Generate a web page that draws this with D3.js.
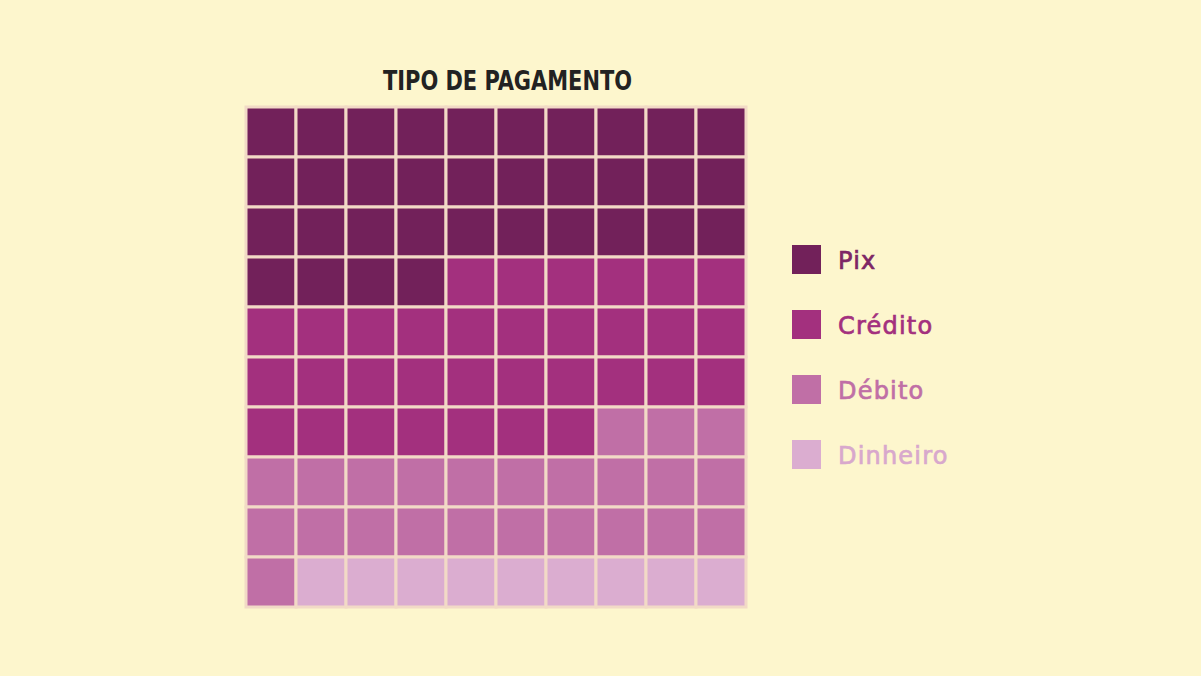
<!DOCTYPE html>
<html>
<head>
<meta charset="utf-8">
<script src="https://cdn.jsdelivr.net/npm/d3@7"></script>
<style>
  html, body { margin: 0; padding: 0; background: #fdf6cd; }
  svg { display: block; }
</style>
</head>
<body>
<svg id="chart" width="1201" height="676"></svg>
<script>
// waffle data: 100 squares
const categories = ["Pix", "Crédito", "Débito", "Dinheiro"];
const counts = [34, 33, 24, 9];
const colors = ["#72215a", "#a3307e", "#c06fa6", "#dbadd0"];
const textColors = ["#7e2665", "#a3307e", "#c06fa6", "#d8a8cc"];
const title = "TIPO DE PAGAMENTO";

const svg = d3.select("#chart");
const cols = d3.range(10);

svg.append("rect").attr("width", 1201).attr("height", 676).attr("fill", "#fdf6cd");

const x = d3.scaleBand().domain(cols).range([246, 746]);
const y = d3.scaleBand().domain(cols).range([107, 607]);

// expand counts into cells
const cells = [];
let idx = 0;
categories.forEach((c, i) => {
  for (let k = 0; k < counts[i]; k++) {
    cells.push({ cat: c, i: i, col: idx % 10, row: Math.floor(idx / 10) });
    idx++;
  }
});

svg.append("g")
  .selectAll("rect")
  .data(cells)
  .enter()
  .append("rect")
  .attr("x", d => x(d.col))
  .attr("y", d => y(d.row))
  .attr("width", x.bandwidth())
  .attr("height", y.bandwidth())
  .attr("fill", d => colors[d.i])
  .attr("stroke", "#f2dac6")
  .attr("stroke-width", 3);

svg.append("text")
  .attr("x", 383)
  .attr("y", 90)
  .attr("font-family", "'Liberation Sans Narrow', 'DejaVu Sans Condensed', sans-serif")
  .attr("font-weight", "bold")
  .attr("font-size", 27)
  .attr("textLength", 249)
  .attr("lengthAdjust", "spacingAndGlyphs")
  .attr("fill", "#222")
  .text(title);

// legend
const ly = d3.scaleBand().domain(categories).range([227, 487]);
const legend = svg.append("g")
  .selectAll("g")
  .data(categories)
  .enter()
  .append("g")
  .attr("transform", d => `translate(792,${ly(d) + ly.bandwidth() / 2})`);

legend.append("rect")
  .attr("y", -14.5)
  .attr("width", 29)
  .attr("height", 29)
  .attr("fill", (d, i) => colors[i]);

legend.append("text")
  .attr("x", 46)
  .attr("y", 9.5)
  .attr("font-family", "'DejaVu Sans', sans-serif")
  .attr("font-size", 24)
  .attr("letter-spacing", 1.2)
  .attr("stroke", (d, i) => textColors[i])
  .attr("stroke-width", 0.7)
  .attr("fill", (d, i) => textColors[i])
  .text(d => d);
</script>
</body>
</html>
